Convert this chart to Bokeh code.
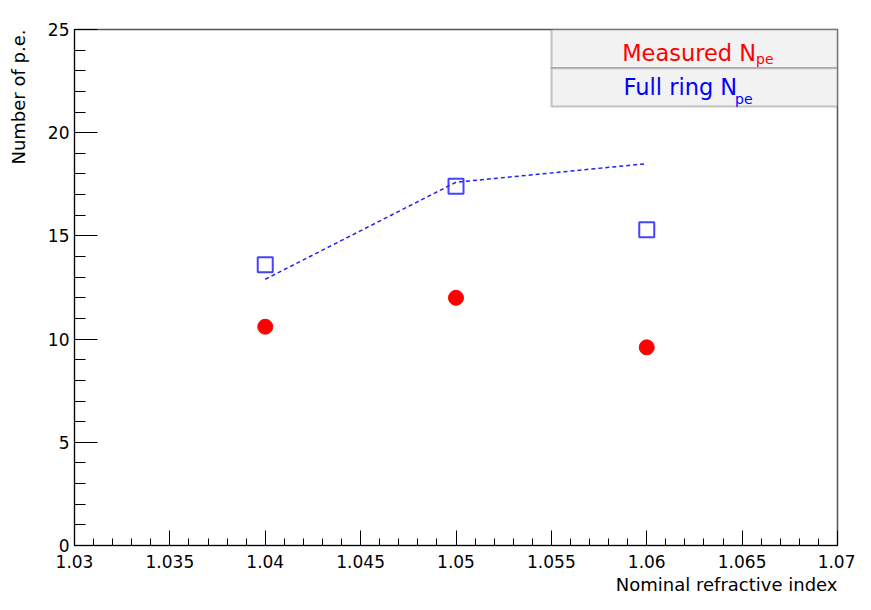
from bokeh.plotting import figure
from bokeh.models import (Range1d, FixedTicker, NumeralTickFormatter, Title,
                          Label, BoxAnnotation)
from bokeh.embed import file_html
from bokeh.resources import INLINE

# ---------------- data ----------------
index_values = [1.04, 1.05, 1.06]
measured_npe = [10.6, 12.0, 9.6]
full_ring_npe = [13.6, 17.4, 15.3]
expected_line_x = [1.04, 1.05, 1.06]
expected_line_y = [12.9, 17.6, 18.5]

x_major_ticks = [1.03, 1.035, 1.04, 1.045, 1.05, 1.055, 1.06, 1.065, 1.07]
x_minor_ticks = [round(1.03 + 0.001 * i, 3) for i in range(41)]
y_major_ticks = [0, 5, 10, 15, 20, 25]
y_minor_ticks = list(range(26))

x_title = "Nominal refractive index"
y_title = "Number of p.e."
legend_labels = ["Measured N", "Full ring N"]
legend_sub = "pe"

FONT = "DejaVu Sans"
X0, X1 = 1.03, 1.07
Y0, Y1 = 0, 25

W, H = 855, 600
BL, BT = 74, 29
FW = 837 - BL
FH = 545 - BT
BR = W - BL - FW
BB = H - BT - FH

p = figure(width=W, height=H, output_backend="svg", toolbar_location=None,
           x_range=Range1d(X0, X1), y_range=Range1d(Y0, Y1),
           min_border_left=BL, min_border_right=BR, min_border_top=BT,
           min_border_bottom=BB, background_fill_color="white",
           border_fill_color="white")
p.grid.visible = False
p.outline_line_color = "#555555"
p.outline_line_width = 1.5

for ax in (p.xaxis[0], p.yaxis[0]):
    ax.axis_line_color = "black"
    ax.major_tick_line_color = "black"
    ax.minor_tick_line_color = "black"
    ax.major_tick_out = 0
    ax.minor_tick_out = 0
    ax.major_label_text_font = FONT
    ax.major_label_text_font_size = "17px"
    ax.major_label_text_color = "black"

p.xaxis[0].ticker = FixedTicker(ticks=x_major_ticks, minor_ticks=x_minor_ticks)
p.yaxis[0].ticker = FixedTicker(ticks=y_major_ticks, minor_ticks=y_minor_ticks)
p.xaxis[0].formatter = NumeralTickFormatter(format="0.[000]")
p.yaxis[0].formatter = NumeralTickFormatter(format="0")
p.xaxis[0].major_tick_in = 15
p.xaxis[0].minor_tick_in = 7
p.yaxis[0].major_tick_in = 23
p.yaxis[0].minor_tick_in = 11
p.xaxis[0].major_label_standoff = 9
p.yaxis[0].major_label_standoff = 5

# blank spacer label on the y axis pushes the title outward
p.yaxis[0].axis_label = " "
p.yaxis[0].axis_label_text_font_size = "10px"
p.yaxis[0].axis_label_standoff = 2

p.add_layout(Title(text=x_title, align="right", text_font=FONT,
                   text_font_size="18px", text_font_style="normal",
                   text_color="black", standoff=2), "below")
p.add_layout(Title(text=y_title, align="right", text_font=FONT,
                   text_font_size="18px", text_font_style="normal",
                   text_color="black", standoff=0), "left")

# ---------------- data marks ----------------
p.line(expected_line_x, expected_line_y, line_color="#2020ff", line_width=1.5,
       line_dash="4 3")
p.scatter(index_values, full_ring_npe, marker="square", size=15,
          fill_color=None, line_color="#3030ff", line_width=2, line_alpha=0.9)
p.scatter(index_values, measured_npe, marker="circle", size=15,
          fill_color="red", line_color="red")

# ---------------- legend (screen pixel -> data helpers) ----------------
def dx(px):
    return X0 + (px - BL) / FW * (X1 - X0)

def dy(py):
    return Y1 - (py - BT) / FH * (Y1 - Y0)

box_l, box_r = 551, 837
rows = [(29, 67.7), (67.7, 106)]
for top, bot in rows:
    p.add_layout(BoxAnnotation(left=dx(box_l), right=dx(box_r), top=dy(top),
                               bottom=dy(bot), fill_color="#f2f2f2",
                               fill_alpha=1, line_color="#444444",
                               line_width=2))

p.scatter([dx(586.7)], [dy(48)], marker="circle", size=14,
          fill_color="red", line_color="red")
p.scatter([dx(586.7)], [dy(87.3)], marker="square", size=13,
          fill_color=None, line_color="#5555ff", line_width=1.8)

colors = ["red", "blue"]
main_pos = [(621.7, 52.3), (623, 86.3)]
sub_pos = [(755.5, 58.5), (734.5, 98.7)]
for lab, col, (mx, my), (sx, sy) in zip(legend_labels, colors, main_pos, sub_pos):
    p.add_layout(Label(x=dx(mx), y=dy(my), text=lab, text_font=FONT,
                       text_font_size="22.5px", text_color=col,
                       text_baseline="alphabetic", text_align="left"))
    p.add_layout(Label(x=dx(sx), y=dy(sy), text=legend_sub, text_font=FONT,
                       text_font_size="14px", text_color=col,
                       text_baseline="alphabetic", text_align="left"))

open("out.html", "w").write(file_html(p, INLINE))
